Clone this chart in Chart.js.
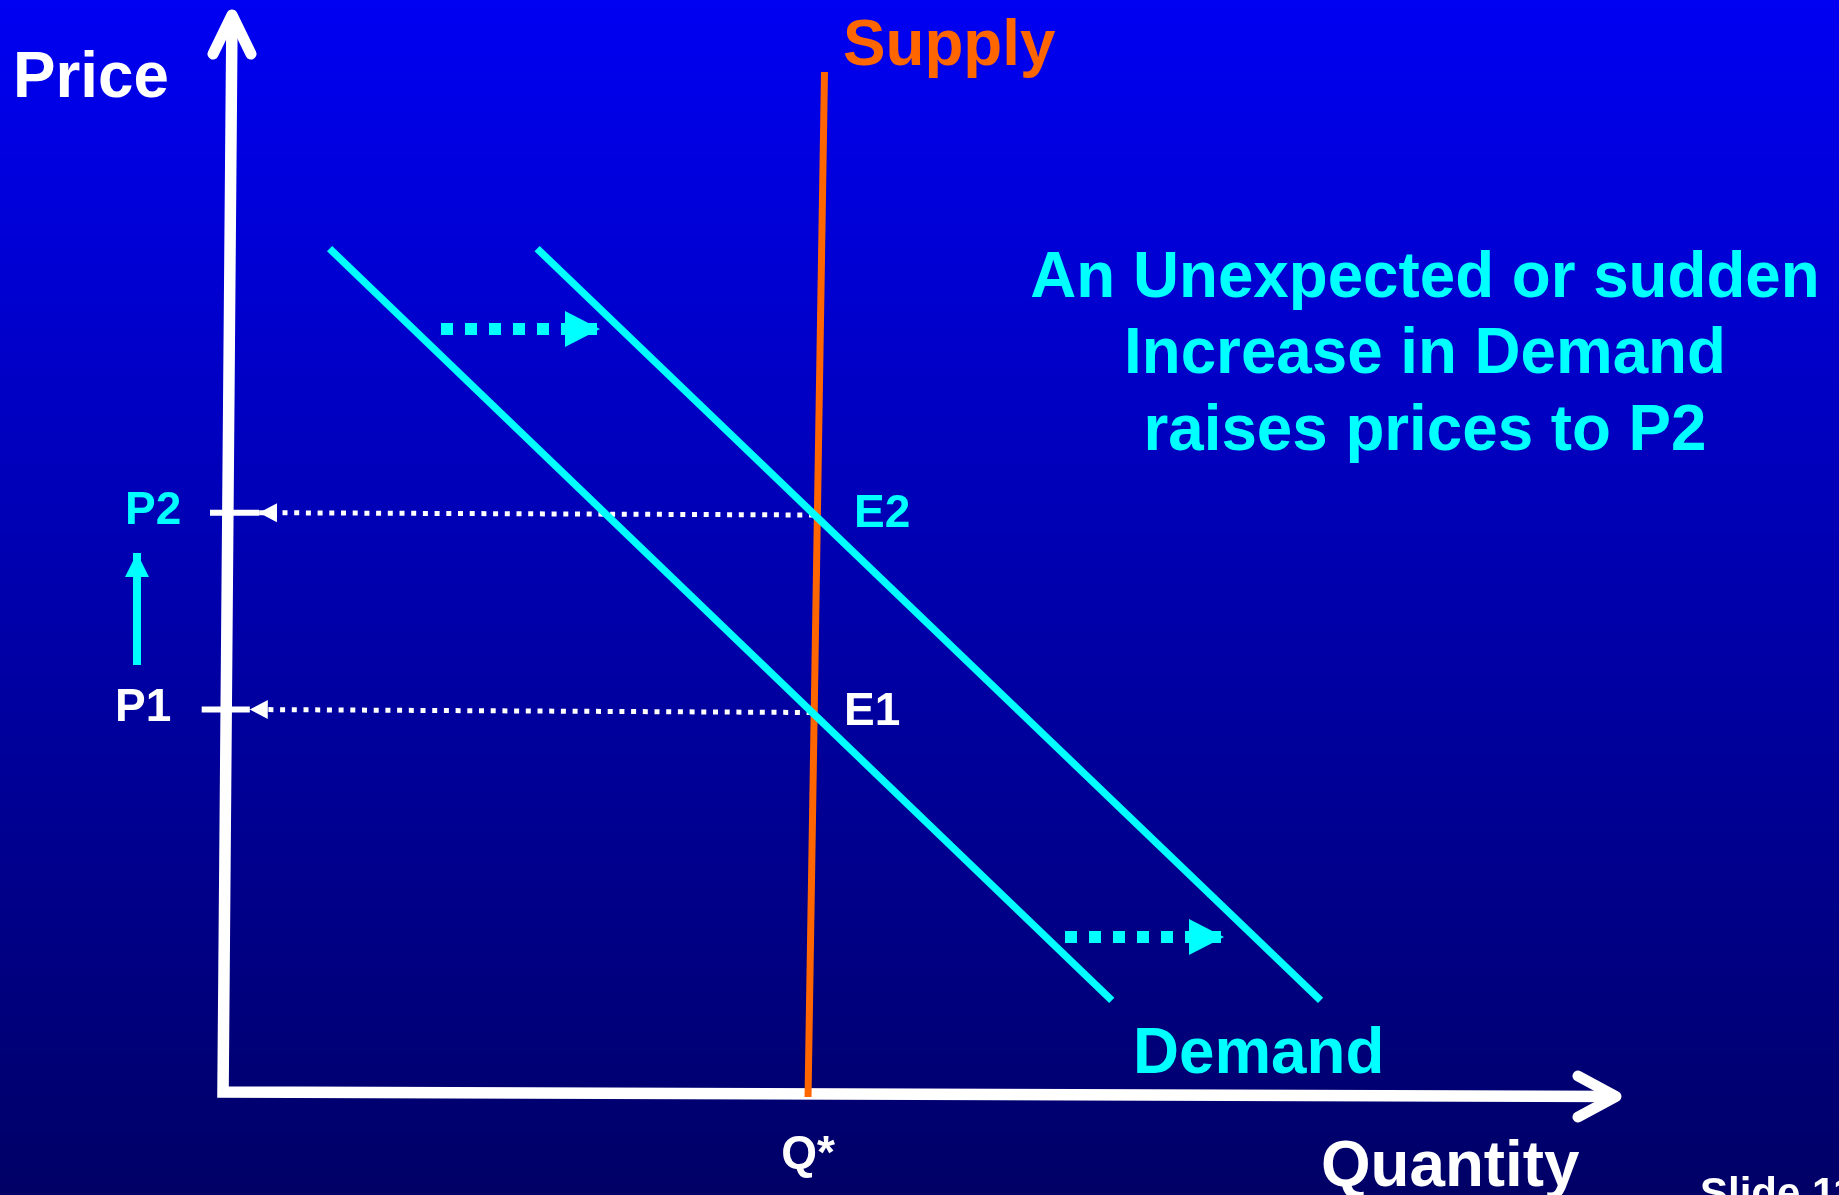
<!DOCTYPE html>
<html><head><meta charset="utf-8">
<script src="https://cdn.jsdelivr.net/npm/chart.js@4.4.1/dist/chart.umd.min.js"></script>
<style>html,body{margin:0;padding:0;background:#00009a;overflow:hidden}canvas{display:block}</style>
</head><body>
<canvas id="c" width="1839" height="1195" style="width:1839px;height:1195px"></canvas>
<script>
// Diagram data in (quantity, price) units; origin at the corner of the axes
const quantityRange = [-2.23, 16.16];
const priceRange = [-1.03, 10.92];
const axisFrame = [{x:0.09,y:10.77},{x:0,y:0},{x:13.93,y:-0.045}];
const priceAxisHead = [{x:-0.10,y:10.38},{x:0.09,y:10.77},{x:0.28,y:10.38}];
const quantityAxisHead = [{x:13.55,y:0.16},{x:13.93,y:-0.045},{x:13.55,y:-0.25}];
const supplyCurve = [{x:6.015,y:10.20},{x:5.85,y:-0.05}];
const demandOriginal = [{x:1.066,y:8.434},{x:8.888,y:0.916}];
const demandShifted = [{x:3.141,y:8.434},{x:10.976,y:0.916}];
const priceP2Guide = [{x:5.91,y:5.77},{x:0.36,y:5.793}];
const priceP1Guide = [{x:5.886,y:3.795},{x:0.268,y:3.825}];
const priceP2Tick = [{x:-0.13,y:5.793},{x:0.36,y:5.793}];
const priceP1Tick = [{x:-0.213,y:3.825},{x:0.268,y:3.825}];
const shiftArrowUpper = [{x:2.18,y:7.63},{x:3.77,y:7.63}];
const shiftArrowLower = [{x:8.42,y:1.55},{x:10.01,y:1.55}];
const priceRiseArrow = [{x:-0.86,y:4.27},{x:-0.86,y:5.39}];
const titleLines = ['An Unexpected or sudden','Increase in Demand','raises prices to P2'];
const labelTexts = {price:'Price', quantity:'Quantity', supply:'Supply', demand:'Demand',
  qStar:'Q*', p1:'P1', p2:'P2', e1:'E1', e2:'E2', slide:'Slide 11'};

const WHITE='#ffffff', CYAN='#00ffff', ORANGE='#ff6600';
const FONT='"Liberation Sans", Arial, Helvetica, sans-serif';

function lineSet(data, color, width, extra){
  return Object.assign({data, showLine:true, borderColor:color, backgroundColor:color,
    borderWidth:width, pointRadius:0, pointHoverRadius:0, fill:false, tension:0,
    borderCapStyle:'butt', borderJoinStyle:'miter'}, extra||{});
}

const bgPlugin = {
  id:'bg',
  beforeDraw(chart){
    const {ctx, width, height} = chart;
    const g = ctx.createLinearGradient(0,0,0,height);
    g.addColorStop(0,'#0000f2');
    g.addColorStop(1,'#000066');
    ctx.save(); ctx.fillStyle=g; ctx.fillRect(0,0,width,height); ctx.restore();
  }
};

const arrowPlugin = {
  id:'arrows',
  afterDatasetsDraw(chart){
    const ctx = chart.ctx;
    chart.data.datasets.forEach((ds,i)=>{
      if(!ds.arrowHead) return;
      const pts = chart.getDatasetMeta(i).data;
      const a = pts[pts.length-2], b = pts[pts.length-1];
      const dx=b.x-a.x, dy=b.y-a.y, L=Math.hypot(dx,dy), ux=dx/L, uy=dy/L;
      const {length, half} = ds.arrowHead;
      const bx=b.x-ux*length, by=b.y-uy*length;
      ctx.save(); ctx.fillStyle=ds.borderColor; ctx.beginPath();
      ctx.moveTo(b.x,b.y);
      ctx.lineTo(bx-uy*half, by+ux*half);
      ctx.lineTo(bx+uy*half, by-ux*half);
      ctx.closePath(); ctx.fill(); ctx.restore();
    });
  }
};

const textPlugin = {
  id:'texts',
  afterDraw(chart){
    const ctx = chart.ctx;
    function t(s,x,y,color,size,align,sx){
      sx = sx||1;
      ctx.save();
      ctx.translate(x,y); ctx.scale(sx,1);
      ctx.font='bold '+size+'px '+FONT; ctx.fillStyle=color; ctx.textAlign=align||'left';
      ctx.textBaseline='alphabetic'; ctx.fillText(s,0,0);
      ctx.restore();
    }
    const K=0.98;
    t(labelTexts.price, 13, 97, WHITE, 65, 'left', K);
    t(labelTexts.supply, 843, 65, ORANGE, 65, 'left', K);
    t(labelTexts.demand, 1133, 1073, CYAN, 65, 'left', K);
    t(labelTexts.quantity, 1321, 1186, WHITE, 65, 'left', K);
    const base=[297,373,450];
    titleLines.forEach((s,k)=>t(s,1425,base[k],CYAN,65,'center',K));
    t(labelTexts.qStar, 808, 1168, WHITE, 46, 'center');
    t(labelTexts.p2, 125, 524, CYAN, 46);
    t(labelTexts.p1, 115, 721, WHITE, 46);
    t(labelTexts.e2, 854, 527, CYAN, 46);
    t(labelTexts.e1, 844, 725, WHITE, 46);
    t(labelTexts.slide, 1700, 1207, WHITE, 42);
  }
};

new Chart(document.getElementById('c'), {
  type:'scatter',
  data:{datasets:[
    lineSet(axisFrame, WHITE, 11.5, {order:20}),
    lineSet(priceAxisHead, WHITE, 11, {order:19, borderCapStyle:'round', borderJoinStyle:'round'}),
    lineSet(quantityAxisHead, WHITE, 11, {order:18, borderCapStyle:'round', borderJoinStyle:'round'}),
    lineSet(supplyCurve, ORANGE, 7, {order:15}),
    lineSet(priceP2Guide, WHITE, 5, {order:14, borderDash:[5,6.7], arrowHead:{length:18, half:9.5}}),
    lineSet(priceP1Guide, WHITE, 5, {order:13, borderDash:[5,6.7], arrowHead:{length:18, half:9.5}}),
    lineSet(priceP2Tick, WHITE, 6, {order:12}),
    lineSet(priceP1Tick, WHITE, 6, {order:11}),
    lineSet(demandOriginal, CYAN, 7.5, {order:10}),
    lineSet(demandShifted, CYAN, 7.5, {order:9}),
    lineSet(shiftArrowUpper, CYAN, 12, {order:8, borderDash:[12,12], arrowHead:{length:35, half:18}}),
    lineSet(shiftArrowLower, CYAN, 12, {order:7, borderDash:[12,12], arrowHead:{length:35, half:18}}),
    lineSet(priceRiseArrow, CYAN, 8, {order:6, arrowHead:{length:24, half:12}})
  ]},
  options:{
    responsive:false, animation:false, devicePixelRatio:1,
    layout:{padding:0},
    plugins:{legend:{display:false}, tooltip:{enabled:false}},
    events:[],
    scales:{
      x:{type:'linear', min:quantityRange[0], max:quantityRange[1], display:false},
      y:{type:'linear', min:priceRange[0], max:priceRange[1], display:false}
    }
  },
  plugins:[bgPlugin, arrowPlugin, textPlugin]
});
</script>
</body></html>
